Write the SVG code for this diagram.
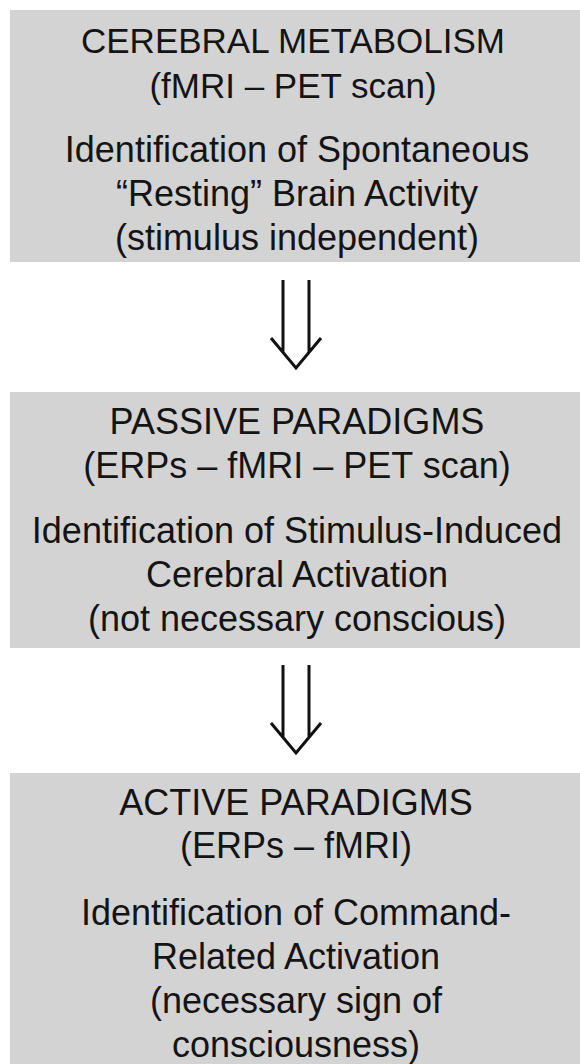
<svg xmlns="http://www.w3.org/2000/svg" width="580" height="1064" viewBox="0 0 580 1064">
<style>
.box{fill:#d3d3d3}
text{font-family:"Liberation Sans",Arial,sans-serif;font-size:36px;fill:#141414;text-anchor:middle}
text.t1{font-size:35px}
.arr{fill:none;stroke:#111;stroke-width:3;stroke-linecap:butt;stroke-linejoin:miter}
</style>
<rect width="580" height="1064" fill="#ffffff"/>
<g id="node-cerebral-metabolism">
<rect class="box" x="10" y="10" width="570" height="252"/>
<text class="t1" x="293" y="53">CEREBRAL METABOLISM</text>
<text class="t1" x="293" y="98">(fMRI – PET scan)</text>
<text x="297" y="162">Identification of Spontaneous</text>
<text x="297" y="206">“Resting” Brain Activity</text>
<text x="297" y="250">(stimulus independent)</text>
</g>
<g id="node-passive-paradigms">
<rect class="box" x="10" y="392" width="570" height="256"/>
<text x="297" y="434">PASSIVE PARADIGMS</text>
<text x="297" y="478">(ERPs – fMRI – PET scan)</text>
<text x="297" y="543">Identification of Stimulus-Induced</text>
<text x="297" y="587">Cerebral Activation</text>
<text x="297" y="631">(not necessary conscious)</text>
</g>
<g id="node-active-paradigms">
<rect class="box" x="10" y="773" width="570" height="291"/>
<text x="296" y="815">ACTIVE PARADIGMS</text>
<text x="296" y="858">(ERPs – fMRI)</text>
<text x="296" y="925">Identification of Command-</text>
<text x="296" y="969">Related Activation</text>
<text x="296" y="1013">(necessary sign of</text>
<text x="296" y="1057">consciousness)</text>
</g>
<g id="connectors">
<path class="arr" d="M283 280V352M309 280V352M271 338L296 368L321 338"/>
<path class="arr" d="M283 665V737M309 665V737M271 723L296 753L321 723"/>
</g>
</svg>
